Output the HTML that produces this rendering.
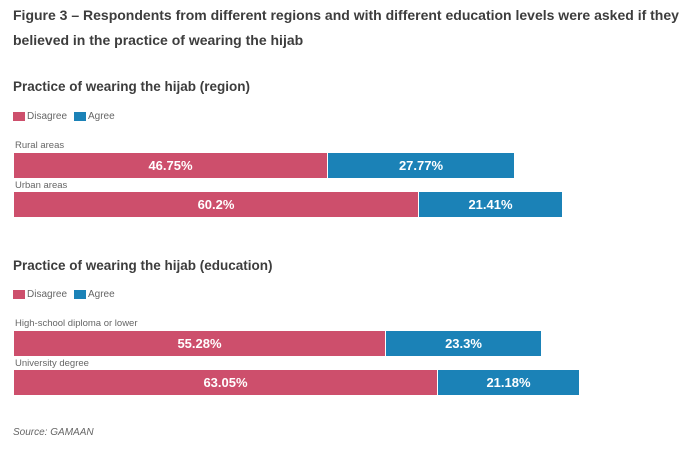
<!DOCTYPE html>
<html><head><style>
body{margin:0;width:700px;height:450px;background:#fff;font-family:"Liberation Sans",sans-serif;position:relative;overflow:hidden;color:#3d3d3d}
div{position:absolute}
.t{font-weight:bold;font-size:14px;left:13px;line-height:25px;white-space:nowrap}
.h{font-weight:bold;font-size:13.5px;left:13px}
.lg{font-size:10px;color:#666}
.sw{width:12px;height:9px}
.lb{font-size:9.5px;color:#666;left:15px}
.p{background:#cd4f6c;height:25px;color:#fff;font-weight:bold;font-size:13px;text-align:center;line-height:25px}
.b{background:#1b82b7;height:25px;color:#fff;font-weight:bold;font-size:13px;text-align:center;line-height:25px}
</style></head><body>
<div class="t" style="top:3px">Figure 3 – Respondents from different regions and with different education levels were asked if they<br>believed in the practice of wearing the hijab</div>
<div class="h" style="top:79px">Practice of wearing the hijab (region)</div>
<div class="sw" style="left:13px;top:112px;background:#cd4f6c"></div><div class="lg" style="left:27px;top:111px">Disagree</div>
<div class="sw" style="left:74px;top:112px;background:#1b82b7"></div><div class="lg" style="left:88px;top:111px">Agree</div>
<div class="lb" style="top:140px">Rural areas</div>
<div class="p" style="left:14px;top:153px;width:313px">46.75%</div>
<div class="b" style="left:328px;top:153px;width:186px">27.77%</div>
<div class="lb" style="top:180px">Urban areas</div>
<div class="p" style="left:14px;top:192px;width:404px">60.2%</div>
<div class="b" style="left:419px;top:192px;width:143px">21.41%</div>
<div class="h" style="top:258px">Practice of wearing the hijab (education)</div>
<div class="sw" style="left:13px;top:290px;background:#cd4f6c"></div><div class="lg" style="left:27px;top:289px">Disagree</div>
<div class="sw" style="left:74px;top:290px;background:#1b82b7"></div><div class="lg" style="left:88px;top:289px">Agree</div>
<div class="lb" style="top:318px">High-school diploma or lower</div>
<div class="p" style="left:14px;top:331px;width:371px">55.28%</div>
<div class="b" style="left:386px;top:331px;width:155px">23.3%</div>
<div class="lb" style="top:358px">University degree</div>
<div class="p" style="left:14px;top:370px;width:423px">63.05%</div>
<div class="b" style="left:438px;top:370px;width:141px">21.18%</div>
<div style="left:13px;top:427px;font-size:10px;font-style:italic;color:#666">Source: GAMAAN</div>
</body></html>
